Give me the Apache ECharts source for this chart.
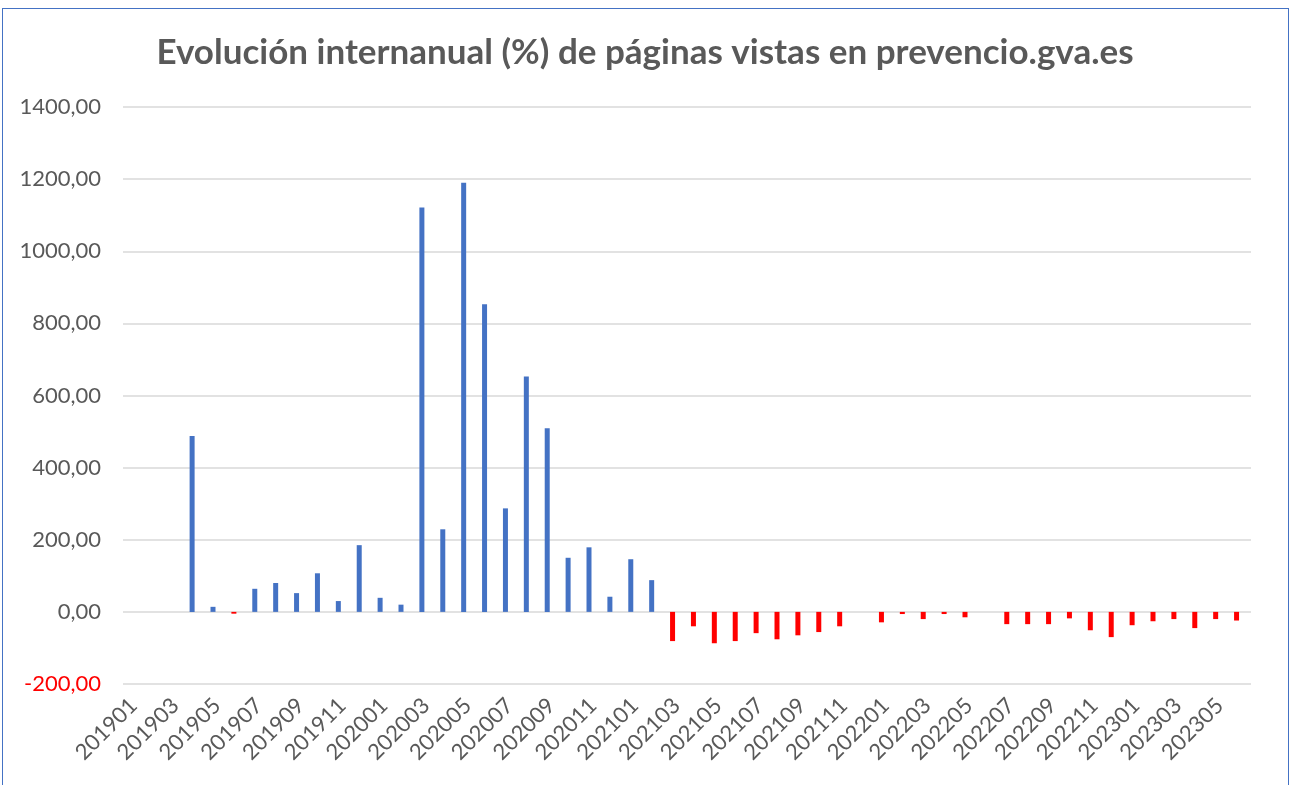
<!DOCTYPE html>
<html>
<head>
<meta charset="utf-8">
<script src="https://cdn.jsdelivr.net/npm/echarts@6/dist/echarts.min.js"></script>
<style>
  html, body { margin: 0; background: #fff; }
  #chart { position: absolute; left: 0; top: 0; width: 1290px; height: 785px; }
  #frame { position: absolute; left: 2px; top: 8px; width: 1285px; height: 800px;
           border: 1.5px solid #4472c4; pointer-events: none; }
</style>
</head>
<body>
<div id="chart"></div>
<div id="frame"></div>
<script>
const months = [
  '201901', '201902', '201903', '201904', '201905', '201906', '201907', '201908', '201909', '201910', '201911', '201912',
  '202001', '202002', '202003', '202004', '202005', '202006', '202007', '202008', '202009', '202010', '202011', '202012',
  '202101', '202102', '202103', '202104', '202105', '202106', '202107', '202108', '202109', '202110', '202111', '202112',
  '202201', '202202', '202203', '202204', '202205', '202206', '202207', '202208', '202209', '202210', '202211', '202212',
  '202301', '202302', '202303', '202304', '202305', '202306'
];

// variación interanual (%)
const variacion = [
  null, null, null, 488, 14, -5, 64, 80, 52, 107, 30, 185,
  39, 20, 1121, 229, 1190, 853, 287, 653, 509, 150, 179, 42,
  146, 88, -81, -40, -87, -81, -59, -76, -65, -56, -40, null,
  -29, -6, -20, -6, -15, null, -34, -34, -34, -18, -51, -70,
  -37, -26, -20, -45, -20, -24
];

const yMin = -200;
const yMax = 1400;
const yStep = 200;

const gris = '#595959';
const fontFam = 'Lato, "Open Sans", sans-serif';

const chart = echarts.init(document.getElementById('chart'));

const fmt = v => v.toFixed(2).replace('.', ',');

chart.setOption({
  animation: false,
  title: {
    text: 'Evolución internanual (%) de páginas vistas en prevencio.gva.es',
    left: 'center',
    top: 30,
    textStyle: { color: gris, fontSize: 35, fontWeight: 'bold', fontFamily: fontFam }
  },
  grid: { left: 123, right: 39, top: 107, bottom: 101 },
  xAxis: {
    type: 'category',
    data: months,
    axisLine: { show: false },
    axisTick: { show: false },
    axisLabel: {
      interval: 1,
      rotate: 45,
      margin: 18,
      color: gris,
      fontSize: 22,
      fontFamily: fontFam
    }
  },
  yAxis: {
    type: 'value',
    min: yMin,
    max: yMax,
    interval: yStep,
    axisLine: { show: false },
    axisTick: { show: false },
    splitLine: { lineStyle: { color: '#d9d9d9', width: 1.5 } },
    axisLabel: {
      margin: 22,
      fontSize: 22,
      fontFamily: fontFam,
      formatter: v => v < 0 ? '{neg|' + fmt(v) + '}' : fmt(v),
      color: gris,
      rich: { neg: { color: '#ff0000', fontSize: 22, fontFamily: fontFam } }
    }
  },
  series: [
    {
      name: 'variacion',
      type: 'bar',
      data: variacion,
      barWidth: 5,
      barGap: '60%',
      itemStyle: {
        color: p => p.value < 0 ? '#ff0000' : '#4472c4'
      }
    },
    // hueco vacío para desplazar las barras como en Excel
    { name: 'hueco', type: 'bar', data: [], barWidth: 5, silent: true }
  ]
});
</script>
</body>
</html>
